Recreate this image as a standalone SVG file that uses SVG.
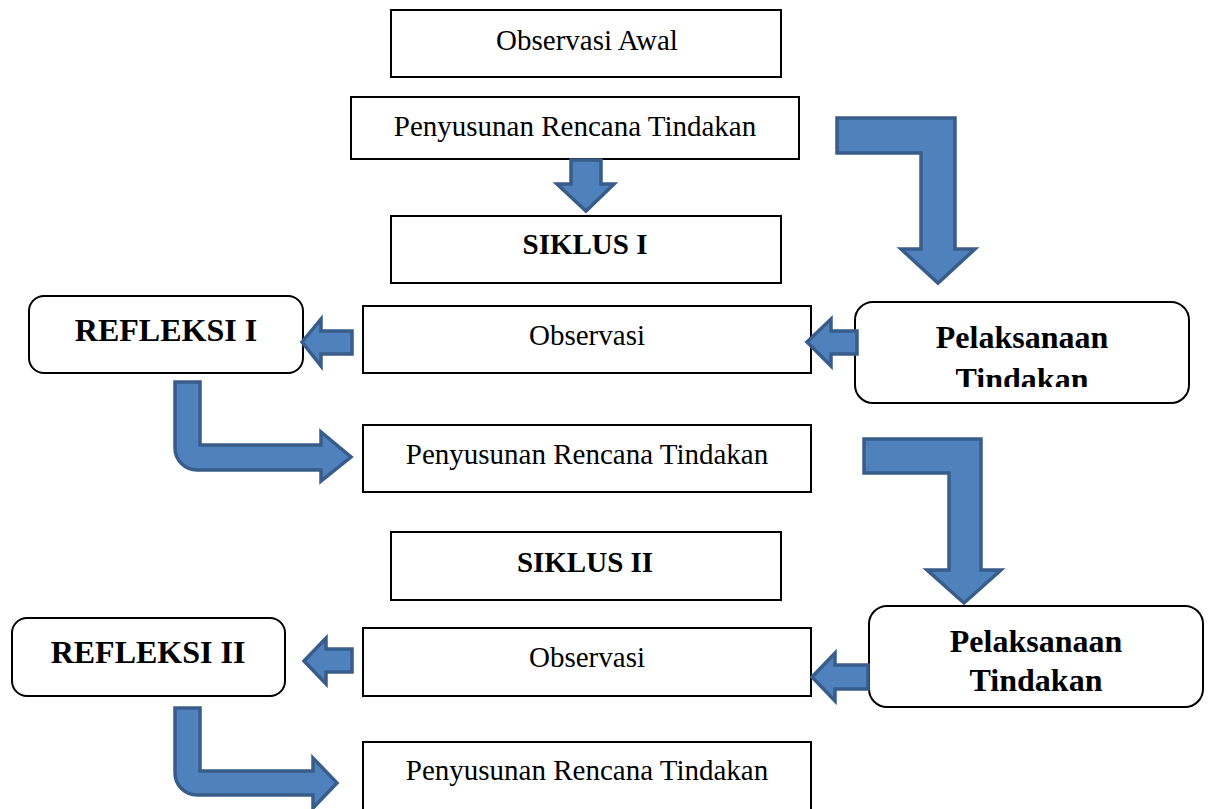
<svg xmlns="http://www.w3.org/2000/svg" width="1208" height="809" viewBox="0 0 1208 809">
<style>
.box{fill:#fff;stroke:#000;stroke-width:2}
.t{font-family:"Liberation Serif","Times New Roman",serif;font-size:29px;fill:#000;text-anchor:middle}
.b{font-family:"Liberation Serif","Times New Roman",serif;font-weight:bold;fill:#000;text-anchor:middle}
.arr{fill:#4F81BD;stroke:#385D8A;stroke-width:3.5;stroke-linejoin:miter}
</style>
<defs>
<clipPath id="clipP1"><rect x="855" y="302" width="334" height="85"/></clipPath>
</defs>
<rect width="1208" height="809" fill="#fff"/>

<g id="n-observasi-awal"><rect class="box" x="391" y="10" width="390" height="67"/><text class="t" x="587" y="50">Observasi Awal</text></g>
<g id="n-penyusunan-0"><rect class="box" x="351" y="97" width="448" height="62"/><text class="t" x="575" y="136">Penyusunan Rencana Tindakan</text></g>
<g id="n-siklus-1"><rect class="box" x="391" y="216" width="390" height="67"/><text class="b" x="585" y="254" font-size="29">SIKLUS I</text></g>
<g id="n-refleksi-1"><rect class="box" x="29" y="296" width="274" height="77" rx="15"/><text class="b" x="166" y="341" font-size="32">REFLEKSI I</text></g>
<g id="n-observasi-1"><rect class="box" x="363" y="306" width="448" height="67"/><text class="t" x="587" y="345">Observasi</text></g>
<g id="n-pelaksanaan-1"><rect class="box" x="855" y="302" width="334" height="101" rx="18"/><g clip-path="url(#clipP1)"><text class="b" x="1022" y="348" font-size="32">Pelaksanaan</text><text class="b" x="1022" y="390" font-size="32">Tindakan</text></g></g>
<g id="n-penyusunan-1"><rect class="box" x="363" y="425" width="448" height="67"/><text class="t" x="587" y="464">Penyusunan Rencana Tindakan</text></g>
<g id="n-siklus-2"><rect class="box" x="391" y="532" width="390" height="68"/><text class="b" x="585" y="572" font-size="29">SIKLUS II</text></g>
<g id="n-refleksi-2"><rect class="box" x="12" y="618" width="273" height="78" rx="15"/><text class="b" x="148" y="663" font-size="32">REFLEKSI II</text></g>
<g id="n-observasi-2"><rect class="box" x="363" y="628" width="448" height="68"/><text class="t" x="587" y="667">Observasi</text></g>
<g id="n-pelaksanaan-2"><rect class="box" x="869" y="606" width="334" height="101" rx="18"/><text class="b" x="1036" y="652" font-size="32">Pelaksanaan</text><text class="b" x="1036" y="691" font-size="32">Tindakan</text></g>
<g id="n-penyusunan-2"><rect class="box" x="363" y="742" width="448" height="80"/><text class="t" x="587" y="780">Penyusunan Rencana Tindakan</text></g>

<g id="connectors">
<path class="arr" d="M571,160 L601,160 L601,184 L614,184 L586,211 L557,184 L571,184 Z"/>
<path class="arr" d="M837,118 L955,118 L955,249 L975,249 L938,283 L901,249 L921,249 L921,153 L837,153 Z"/>
<path class="arr" d="M302,342 L321,319 L321,331 L352,331 L352,354 L321,354 L321,366 Z"/>
<path class="arr" d="M807,342 L831,319 L831,331 L857,331 L857,354 L831,354 L831,366 Z"/>
<path class="arr" d="M175,382 L200,382 L200,445 L321,445 L321,432 L351,457 L321,481 L321,470 L197,470 A22,22 0 0 1 175,448 Z"/>
<path class="arr" d="M864,439 L981,439 L981,570 L1001,570 L964,603 L927,570 L949,570 L949,473 L864,473 Z"/>
<path class="arr" d="M304,661 L326,638 L326,649 L352,649 L352,672 L326,672 L326,684 Z"/>
<path class="arr" d="M812,677 L835,653 L835,665 L868,665 L868,689 L835,689 L835,701 Z"/>
<path class="arr" d="M175,708 L200,708 L200,771 L313,771 L313,758 L337,783 L313,808 L313,795 L197,795 A22,22 0 0 1 175,773 Z"/>
</g>
</svg>
